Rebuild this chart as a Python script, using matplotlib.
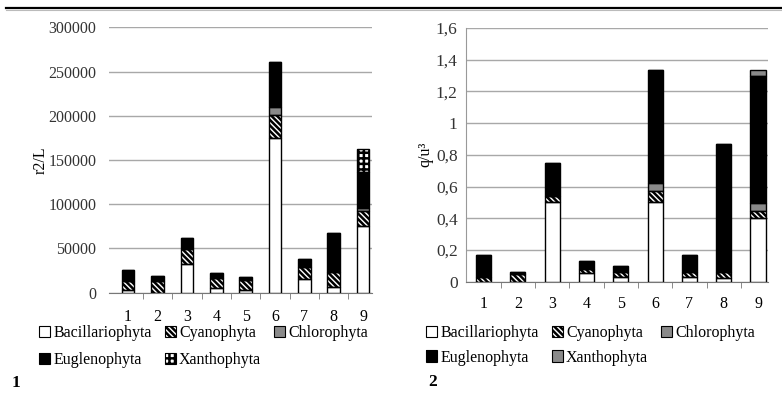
import numpy as np
import matplotlib.pyplot as plt
from matplotlib.lines import Line2D
from matplotlib.patches import Patch
from matplotlib.legend_handler import HandlerTuple

plt.rcParams['font.family'] = ['Liberation Serif', 'DejaVu Serif']
plt.rcParams['hatch.linewidth'] = 1.8

sites = [1, 2, 3, 4, 5, 6, 7, 8, 9]
groups = ["Bacillariophyta", "Cyanophyta", "Chlorophyta", "Euglenophyta", "Xanthophyta"]

# chart 1: abundance
bac_1 = [3000, 0, 32800, 4900, 2600, 174400, 15100, 6000, 75700]
cya_1 = [9800, 13200, 16200, 11300, 11300, 26400, 14300, 17700, 16600]
chl_1 = [0, 0, 0, 0, 0, 8700, 0, 0, 3000]
eug_1 = [12400, 6000, 13200, 5650, 3800, 51600, 8300, 43400, 41500]
xan_1 = [0, 0, 0, 0, 0, 0, 0, 0, 25300]

# chart 2: biomass
bac_2 = [0.0, 0.0, 0.505, 0.053, 0.03, 0.505, 0.027, 0.025, 0.40]
cya_2 = [0.03, 0.05, 0.035, 0.03, 0.03, 0.07, 0.035, 0.038, 0.045]
chl_2 = [0, 0, 0, 0, 0, 0.05, 0, 0, 0.05]
eug_2 = [0.136, 0.01, 0.206, 0.05, 0.037, 0.71, 0.104, 0.805, 0.80]
xan_2 = [0, 0, 0, 0, 0, 0, 0, 0, 0.04]

fig = plt.figure(figsize=(7.82, 3.96), dpi=100)

# top rule
fig.add_artist(Line2D([0.008, 1.0], [0.98, 0.98], color='black', lw=1.6))
fig.add_artist(Line2D([0.008, 1.0], [0.974, 0.974], color='#bbbbbb', lw=0.8))

STRIPES = '\\' * 6
# (face, hatch, hatch colour)
styles_1 = [('white', None, 'black'),
            ('white', STRIPES, 'black'),
            ('#8a8a8a', None, 'black'),
            ('black', None, 'black'),
            ('white', '+++', 'black')]
styles_2 = [('white', None, 'black'),
            ('white', STRIPES, 'black'),
            ('#8a8a8a', None, 'black'),
            ('black', None, 'black'),
            ('#8a8a8a', None, 'black')]


def stacked(ax, series, styles, width):
    x = np.array(sites)
    bottom = np.zeros(len(sites))
    for vals, (face, hatch, hcol) in zip(series, styles):
        v = np.array(vals, dtype=float)
        # fill + hatch, then a black outline on top
        ax.bar(x, v, width, bottom=bottom, facecolor=face, hatch=hatch,
               edgecolor=hcol, linewidth=0, zorder=3)
        ax.bar(x, v, width, bottom=bottom, facecolor='none',
               edgecolor='black', linewidth=1.0, zorder=4)
        bottom += v


def base_axes(ax, xlim):
    ax.set_xlim(*xlim)
    ax.set_xticks(sites)
    ax.set_xticks(np.arange(1.5, 9, 1.0), minor=True)
    ax.tick_params(axis='x', which='major', length=0, pad=12, labelsize=11.5)
    ax.tick_params(axis='x', which='minor', length=4, color='#777777')
    ax.tick_params(axis='y', length=0, labelsize=11.5, colors='#333333')
    for s in ['top', 'right']:
        ax.spines[s].set_visible(False)
    ax.spines['bottom'].set_color('#777777')
    ax.yaxis.grid(True, color='#a8a8a8', lw=1.0, zorder=0)
    ax.set_axisbelow(True)


def add_legend(ax, styles, anchor, spacing):
    handles = []
    for f, h, c in styles:
        fill = Patch(facecolor=f, hatch=h, edgecolor=c, linewidth=0)
        rim = Patch(facecolor='none', edgecolor='black', linewidth=0.8)
        handles.append((fill, rim))
    order = [0, 3, 1, 4, 2]
    ax.legend([handles[i] for i in order], [groups[i] for i in order],
              handler_map={tuple: HandlerTuple(ndivide=1, pad=0)},
              ncol=3, loc='upper left', bbox_to_anchor=anchor,
              bbox_transform=fig.transFigure, frameon=False, fontsize=11.5,
              handlelength=0.7, handleheight=0.7, handletextpad=0.2,
              columnspacing=0.8, labelspacing=spacing, borderpad=0,
              borderaxespad=0)


# chart 1
ax1 = fig.add_axes([0.1394, 0.2609, 0.3363, 0.670])
stacked(ax1, [bac_1, cya_1, chl_1, eug_1, xan_1], styles_1, 0.43)
base_axes(ax1, (0.35, 9.3))
ax1.set_ylim(0, 300000)
ax1.set_yticks(np.arange(0, 300001, 50000))
ax1.spines['left'].set_visible(False)
ax1.tick_params(axis='y', pad=9)
ax1.set_ylabel("r2/L", fontsize=11.5, labelpad=0)
add_legend(ax1, styles_1, (0.05, 0.18), 0.7)
fig.text(0.015, 0.022, "1", fontsize=12.5, fontweight='bold')

# chart 2
ax2 = fig.add_axes([0.5959, 0.2887, 0.3862, 0.6406])
stacked(ax2, [bac_2, cya_2, chl_2, eug_2, xan_2], styles_2, 0.44)
base_axes(ax2, (0.49, 9.29))
ax2.set_ylim(0, 1.6)
yt = np.arange(0, 1.61, 0.2)
ax2.set_yticks(yt)
ax2.set_yticklabels([("%g" % round(v, 1)).replace('.', ',') for v in yt])
ax2.spines['left'].set_color('#999999')
ax2.tick_params(axis='y', pad=6, labelsize=12.5)
ax2.tick_params(axis='x', pad=10)
ax2.set_ylabel("q/u³", fontsize=11.5, labelpad=2)
add_legend(ax2, styles_2, (0.545, 0.18), 0.55)
fig.text(0.548, 0.025, "2", fontsize=12.5, fontweight='bold')

fig.savefig("out.png", dpi=100)
